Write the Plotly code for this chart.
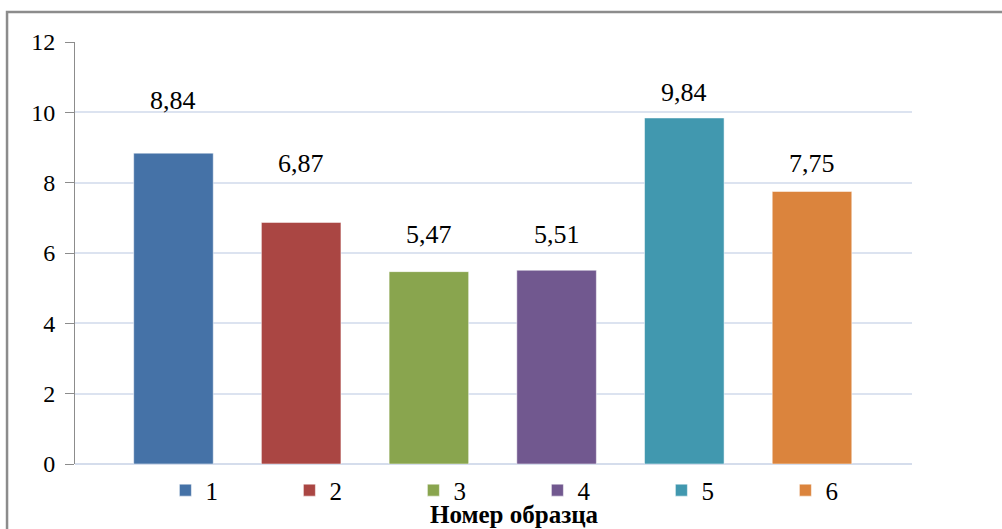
import plotly.graph_objects as go

samples = ["1", "2", "3", "4", "5", "6"]
values = [8.84, 6.87, 5.47, 5.51, 9.84, 7.75]
value_labels = ["8,84", "6,87", "5,47", "5,51", "9,84", "7,75"]
colors = ["#4572A7", "#AA4643", "#89A54E", "#71588F", "#4198AF", "#DB843D"]
# vertical positions (data units) where Excel placed the data labels
label_y = [10.35, 8.54, 6.53, 6.53, 10.56, 8.54]
y_ticks = [0, 2, 4, 6, 8, 10, 12]
x_title = "Номер образца"

FONT = "Liberation Serif"

fig = go.Figure()
for s, v, c in zip(samples, values, colors):
    fig.add_trace(go.Bar(
        x=[s], y=[v], name=s,
        marker=dict(color=c, line=dict(color="rgba(255,255,255,0.5)", width=1)),
        hoverinfo="skip",
    ))

annotations = []
for i, (ly, t) in enumerate(zip(label_y, value_labels)):
    annotations.append(dict(x=i, y=ly, xref="x", yref="y", text=t, showarrow=False,
                            font=dict(family=FONT, size=26, color="#000000"),
                            xanchor="center", yanchor="middle"))
annotations.append(dict(x=0.525, y=-0.119, xref="paper", yref="paper", text="<b>" + x_title + "</b>",
                        showarrow=False, font=dict(family=FONT, size=25, color="#000000"),
                        xanchor="center", yanchor="middle"))

fig.update_layout(
    width=1002, height=529,
    margin=dict(l=75, r=90, t=42, b=65, pad=0, autoexpand=False),
    paper_bgcolor="white", plot_bgcolor="white",
    barmode="relative", bargap=0.377,
    font=dict(family=FONT, size=22, color="#000000"),
    xaxis=dict(type="category", range=[-0.771, 5.783], showticklabels=False,
               showgrid=False, zeroline=False, showline=False, ticks=""),
    yaxis=dict(range=[0, 12], tickvals=y_ticks, ticktext=[str(t) for t in y_ticks],
               showgrid=True, gridcolor="#DCE3F0", gridwidth=1.5,
               zeroline=True, zerolinecolor="#D5DDEC", zerolinewidth=2,
               showline=True, linecolor="#8C8C8C", linewidth=1,
               ticks="outside", ticklen=9, tickcolor="#8C8C8C", tickwidth=1,
               ticklabelstandoff=5,
               tickfont=dict(family=FONT, size=24, color="#000000")),
    legend=dict(orientation="h", x=0.108, y=-0.008, xanchor="left", yanchor="top",
                entrywidth=79, entrywidthmode="pixels",
                font=dict(family=FONT, size=25, color="#000000"),
                itemclick=False, itemdoubleclick=False, tracegroupgap=0),
    showlegend=True,
    annotations=annotations,
    shapes=[dict(type="rect", xref="paper", yref="paper",
                 x0=-0.0812, x1=1.5, y0=-0.5, y1=1.0711,
                 line=dict(color="#8C8C8C", width=2.5), fillcolor="rgba(0,0,0,0)",
                 layer="above")],
)

fig.write_html("out.html")
